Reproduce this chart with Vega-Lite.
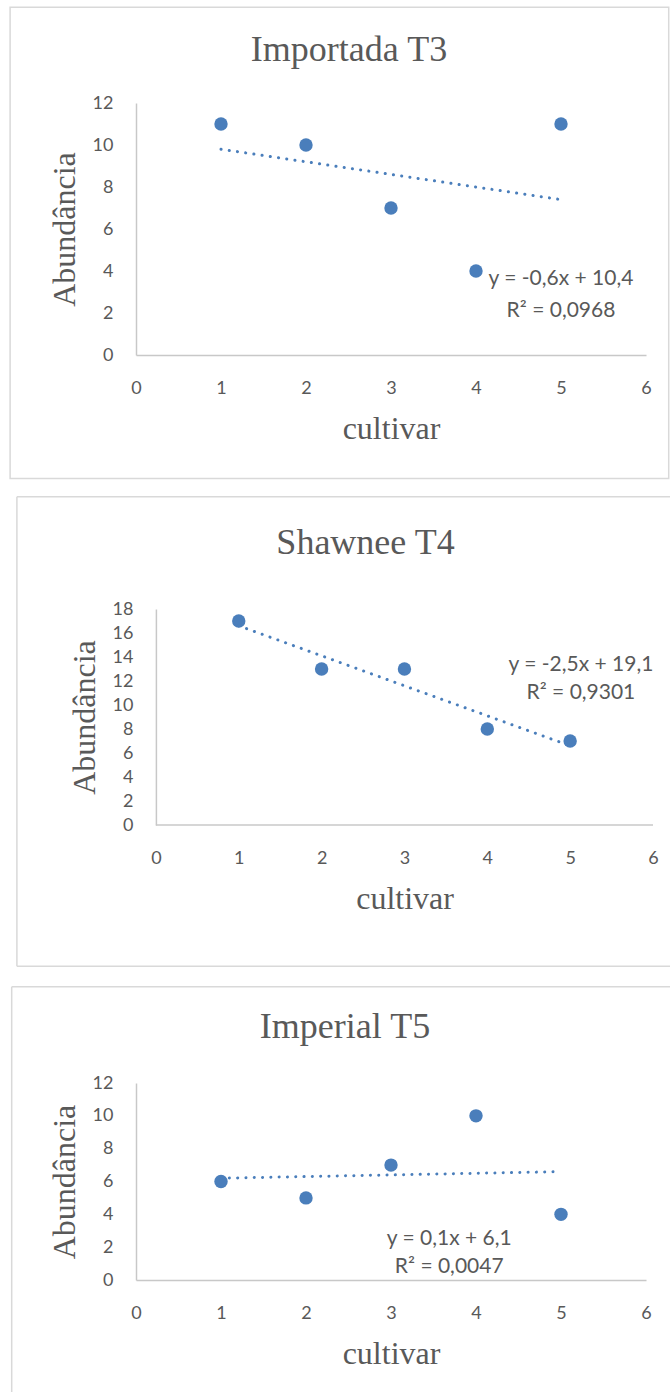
{
  "$schema": "https://vega.github.io/schema/vega-lite/v6.json",
  "background": "white",
  "padding": 0,
  "spacing": 0,
  "datasets": {
    "pontos_t3": [
      {"cultivar": 1, "abundancia": 11},
      {"cultivar": 2, "abundancia": 10},
      {"cultivar": 3, "abundancia": 7},
      {"cultivar": 4, "abundancia": 4},
      {"cultivar": 5, "abundancia": 11}
    ],
    "tendencia_t3": [
      {"cultivar": 1, "abundancia": 9.8},
      {"cultivar": 5, "abundancia": 7.4}
    ],
    "equacao_t3": [
      {"texto": "y = -0,6x + 10,4", "cultivar": 5.0, "abundancia": 3.6},
      {"texto": "R² = 0,0968", "cultivar": 5.0, "abundancia": 2.1}
    ],
    "pontos_t4": [
      {"cultivar": 1, "abundancia": 17},
      {"cultivar": 2, "abundancia": 13},
      {"cultivar": 3, "abundancia": 13},
      {"cultivar": 4, "abundancia": 8},
      {"cultivar": 5, "abundancia": 7}
    ],
    "tendencia_t4": [
      {"cultivar": 1, "abundancia": 16.6},
      {"cultivar": 5, "abundancia": 6.6}
    ],
    "equacao_t4": [
      {"texto": "y = -2,5x + 19,1", "cultivar": 5.13, "abundancia": 13.33},
      {"texto": "R² = 0,9301", "cultivar": 5.13, "abundancia": 10.97}
    ],
    "pontos_t5": [
      {"cultivar": 1, "abundancia": 6},
      {"cultivar": 2, "abundancia": 5},
      {"cultivar": 3, "abundancia": 7},
      {"cultivar": 4, "abundancia": 10},
      {"cultivar": 5, "abundancia": 4}
    ],
    "tendencia_t5": [
      {"cultivar": 1, "abundancia": 6.2},
      {"cultivar": 5, "abundancia": 6.6}
    ],
    "equacao_t5": [
      {"texto": "y = 0,1x + 6,1", "cultivar": 3.685, "abundancia": 2.48},
      {"texto": "R² = 0,0047", "cultivar": 3.685, "abundancia": 0.81}
    ]
  },
  "vconcat": [
    {
      "width": 510,
      "height": 252,
      "title": {"text": "Importada T3", "offset": -68, "dx": -42},
      "layer": [
        {
          "data": {"name": "pontos_t3"},
          "mark": {"type": "circle", "size": 180, "color": "#4a7ebb", "opacity": 1},
          "encoding": {
            "x": {"field": "cultivar", "type": "quantitative", "scale": {"domain": [0, 6], "nice": false, "zero": false}, "axis": {"title": "cultivar", "values": [0, 1, 2, 3, 4, 5, 6], "tickCount": 30, "format": "d", "labelOverlap": false}},
            "y": {"field": "abundancia", "type": "quantitative", "scale": {"domain": [0, 12], "nice": false, "zero": false}, "axis": {"title": "Abundância", "values": [0, 2, 4, 6, 8, 10, 12], "tickCount": 30, "format": "d", "labelOverlap": false}}
          }
        },
        {
          "data": {"values": [{}]},
          "mark": {"type": "rect", "opacity": 0},
          "encoding": {
            "x": {"datum": -1.5918},
            "x2": {"datum": 6.2906},
            "y": {"datum": 16.871},
            "y2": {"datum": -6.271}
          }
        },
        {
          "data": {"values": [{}]},
          "mark": {"type": "rect", "filled": false, "color": "#d9d9d9", "strokeWidth": 1.5},
          "encoding": {
            "x": {"datum": -1.4812},
            "x2": {"datum": 6.2671},
            "y": {"datum": 16.562},
            "y2": {"datum": -5.876}
          }
        },
        {
          "data": {"name": "tendencia_t3"},
          "mark": {"type": "line", "color": "#4a7ebb", "strokeWidth": 3, "strokeDash": [0.1, 8.2], "strokeCap": "round"},
          "encoding": {
            "x": {"field": "cultivar", "type": "quantitative"},
            "y": {"field": "abundancia", "type": "quantitative"}
          }
        },
        {
          "data": {"name": "equacao_t3"},
          "mark": {"type": "text", "font": "Lato", "fontSize": 21, "color": "#595959", "align": "center", "baseline": "middle"},
          "encoding": {
            "x": {"field": "cultivar", "type": "quantitative"},
            "y": {"field": "abundancia", "type": "quantitative"},
            "text": {"field": "texto"}
          }
        }
      ]
    },
    {
      "width": 517,
      "height": 216,
      "title": {"text": "Shawnee T4", "offset": -74, "dx": -29},
      "layer": [
        {
          "data": {"name": "pontos_t4"},
          "mark": {"type": "circle", "size": 180, "color": "#4a7ebb", "opacity": 1},
          "encoding": {
            "x": {"field": "cultivar", "type": "quantitative", "scale": {"domain": [-0.2402, 6], "nice": false, "zero": false}, "axis": {"title": "cultivar", "titleX": 268.6, "values": [0, 1, 2, 3, 4, 5, 6], "tickCount": 30, "format": "d", "labelOverlap": false, "domain": false}},
            "y": {"field": "abundancia", "type": "quantitative", "scale": {"domain": [0, 18], "nice": false, "zero": false}, "axis": {"title": "Abundância", "values": [0, 2, 4, 6, 8, 10, 12, 14, 16, 18], "tickCount": 30, "format": "d", "labelOverlap": false, "offset": -19.9}}
          }
        },
        {
          "data": {"values": [{}]},
          "mark": {"type": "rect", "opacity": 0},
          "encoding": {
            "x": {"datum": -1.8733},
            "x2": {"datum": 6.2136},
            "y": {"datum": 28.108},
            "y2": {"datum": -12.642}
          }
        },
        {
          "data": {"values": [{}]},
          "mark": {"type": "rule", "color": "#c8c8c8", "strokeWidth": 1.5},
          "encoding": {
            "x": {"datum": 0},
            "x2": {"datum": 6},
            "y": {"datum": 0}
          }
        },
        {
          "data": {"values": [{}]},
          "mark": {"type": "rule", "color": "#d9d9d9", "strokeWidth": 1.5},
          "encoding": {
            "x": {"datum": -1.6777},
            "x2": {"datum": 6.2136},
            "y": {"datum": 27.358}
          }
        },
        {
          "data": {"values": [{}]},
          "mark": {"type": "rule", "color": "#d9d9d9", "strokeWidth": 1.5},
          "encoding": {
            "x": {"datum": -1.6777},
            "x2": {"datum": 6.2136},
            "y": {"datum": -11.767}
          }
        },
        {
          "data": {"values": [{}]},
          "mark": {"type": "rule", "color": "#d9d9d9", "strokeWidth": 1.5},
          "encoding": {
            "x": {"datum": -1.6777},
            "y": {"datum": 27.358},
            "y2": {"datum": -11.767}
          }
        },
        {
          "data": {"name": "tendencia_t4"},
          "mark": {"type": "line", "color": "#4a7ebb", "strokeWidth": 3, "strokeDash": [0.1, 8.2], "strokeCap": "round"},
          "encoding": {
            "x": {"field": "cultivar", "type": "quantitative"},
            "y": {"field": "abundancia", "type": "quantitative"}
          }
        },
        {
          "data": {"name": "equacao_t4"},
          "mark": {"type": "text", "font": "Lato", "fontSize": 21, "color": "#595959", "align": "center", "baseline": "middle"},
          "encoding": {
            "x": {"field": "cultivar", "type": "quantitative"},
            "y": {"field": "abundancia", "type": "quantitative"},
            "text": {"field": "texto"}
          }
        }
      ]
    },
    {
      "width": 510,
      "height": 197,
      "title": {"text": "Imperial T5", "offset": -68, "dx": -46},
      "layer": [
        {
          "data": {"name": "pontos_t5"},
          "mark": {"type": "circle", "size": 180, "color": "#4a7ebb", "opacity": 1},
          "encoding": {
            "x": {"field": "cultivar", "type": "quantitative", "scale": {"domain": [0, 6], "nice": false, "zero": false}, "axis": {"title": "cultivar", "values": [0, 1, 2, 3, 4, 5, 6], "tickCount": 30, "format": "d", "labelOverlap": false}},
            "y": {"field": "abundancia", "type": "quantitative", "scale": {"domain": [0, 12], "nice": false, "zero": false}, "axis": {"title": "Abundância", "values": [0, 2, 4, 6, 8, 10, 12], "tickCount": 30, "format": "d", "labelOverlap": false}}
          }
        },
        {
          "data": {"values": [{}]},
          "mark": {"type": "rect", "opacity": 0},
          "encoding": {
            "x": {"datum": -1.5918},
            "x2": {"datum": 6.2906},
            "y": {"datum": 18.414},
            "y2": {"datum": -6.987}
          }
        },
        {
          "data": {"values": [{}]},
          "mark": {"type": "rule", "color": "#d9d9d9", "strokeWidth": 1.5},
          "encoding": {
            "x": {"datum": -1.4624},
            "x2": {"datum": 6.2906},
            "y": {"datum": 17.866}
          }
        },
        {
          "data": {"values": [{}]},
          "mark": {"type": "rule", "color": "#d9d9d9", "strokeWidth": 1.5},
          "encoding": {
            "x": {"datum": -1.4624},
            "y": {"datum": 17.866},
            "y2": {"datum": -6.987}
          }
        },
        {
          "data": {"name": "tendencia_t5"},
          "mark": {"type": "line", "color": "#4a7ebb", "strokeWidth": 3, "strokeDash": [0.1, 8.2], "strokeCap": "round"},
          "encoding": {
            "x": {"field": "cultivar", "type": "quantitative"},
            "y": {"field": "abundancia", "type": "quantitative"}
          }
        },
        {
          "data": {"name": "equacao_t5"},
          "mark": {"type": "text", "font": "Lato", "fontSize": 21, "color": "#595959", "align": "center", "baseline": "middle"},
          "encoding": {
            "x": {"field": "cultivar", "type": "quantitative"},
            "y": {"field": "abundancia", "type": "quantitative"},
            "text": {"field": "texto"}
          }
        }
      ]
    }
  ],
  "config": {
    "view": {"stroke": null},
    "font": "Lato",
    "title": {"font": "Liberation Serif", "fontSize": 36, "fontWeight": "normal", "color": "#595959", "anchor": "middle", "frame": "group", "baseline": "alphabetic"},
    "axis": {
      "domainColor": "#c8c8c8",
      "domainWidth": 1.5,
      "ticks": false,
      "tickSize": 0,
      "grid": false,
      "labelFont": "Lato",
      "labelFontSize": 18,
      "labelColor": "#595959",
      "labelOverlap": false,
      "labelFlush": false,
      "labelBound": false,
      "titleFont": "Liberation Serif",
      "titleFontSize": 32,
      "titleFontWeight": "normal",
      "titleColor": "#595959"
    },
    "axisX": {"labelPadding": 24, "titlePadding": 16},
    "axisY": {"labelPadding": 23, "titlePadding": 11}
  }
}
